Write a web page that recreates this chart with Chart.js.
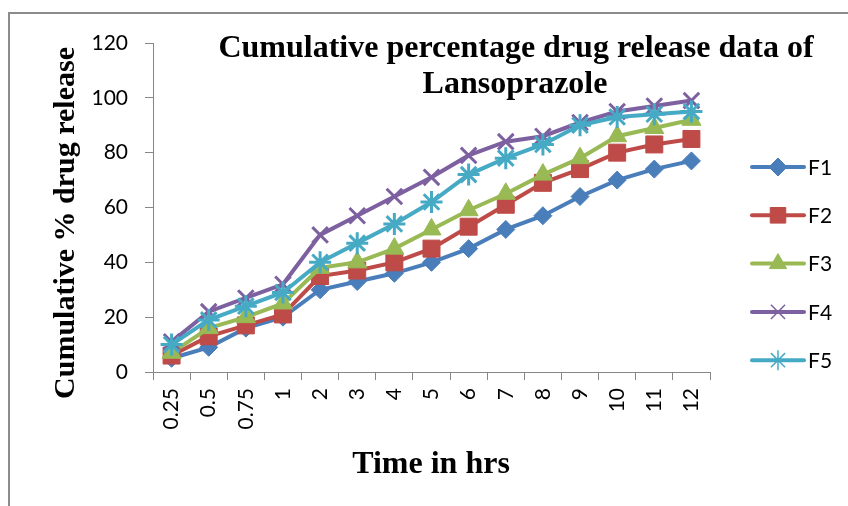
<!DOCTYPE html>
<html>
<head>
<meta charset="utf-8">
<title>Cumulative percentage drug release data of Lansoprazole</title>
<script src="https://cdn.jsdelivr.net/npm/chart.js@4/dist/chart.umd.min.js"></script>
<style>
    html, body { margin: 0; padding: 0; background: #fff; }
    #wrap { width: 848px; height: 506px; }
</style>
</head>
<body>
<div id="wrap"><canvas id="chart" width="848" height="506"></canvas></div>
<script>
// tider (x-axeln) och frisättning i % per formulering
const timeLabels = ['0.25', '0.5', '0.75', '1', '2', '3', '4', '5', '6', '7', '8', '9', '10', '11', '12'];
const yTicks = [0, 20, 40, 60, 80, 100, 120];

const f1 = [5, 9, 16, 20, 30, 33, 36, 40, 45, 52, 57, 64, 70, 74, 77];
const f2 = [6, 13, 17, 21, 35, 37, 40, 45, 53, 61, 69, 74, 80, 83, 85];
const f3 = [7, 16, 20, 25, 38, 40, 45, 52, 59, 65, 72, 78, 86, 89, 92];
const f4 = [11, 22, 27, 32, 50, 57, 64, 71, 79, 84, 86, 91, 95, 97, 99];
const f5 = [10, 19, 24, 29, 40, 47, 54, 62, 72, 78, 83, 90, 93, 94, 95];

const seriesNames = ['F1', 'F2', 'F3', 'F4', 'F5'];
const seriesData = [f1, f2, f3, f4, f5];
const colors = ['#4A7EBB', '#BE4B48', '#98B954', '#7D60A0', '#46AAC5'];
const markers = [
    { style: 'rectRot', radius: 9, border: 1 },
    { style: 'rect', radius: 12, border: 1 },
    { style: 'triangle', radius: 11, border: 1 },
    { style: 'crossRot', radius: 11, border: 3 },
    { style: 'star', radius: 11, border: 3 }
];
// förklaringens markörer är tunnare i originalet
const legendMarkers = [
    { radius: 9, border: 1 },
    { radius: 11, border: 1 },
    { radius: 10, border: 1 },
    { radius: 10, border: 1.5 },
    { radius: 10, border: 1.5 }
];

const axisGray = '#868686';
const tickFont = { family: 'Lato', size: 21 };

const datasets = seriesNames.map((name, i) => ({
    label: name,
    data: seriesData[i],
    borderColor: colors[i],
    backgroundColor: colors[i],
    borderWidth: 4,
    tension: 0,
    pointStyle: markers[i].style,
    pointRadius: markers[i].radius,
    pointBorderWidth: markers[i].border,
    pointBackgroundColor: colors[i],
    pointBorderColor: colors[i],
    order: seriesNames.length - i   // F5 överst, som i Excel
}));

// ram runt hela diagrammet
const framePlugin = {
    id: 'frame',
    beforeDraw (chart) {
        const ctx = chart.ctx;
        ctx.save();
        ctx.strokeStyle = '#8c8c8c';
        ctx.lineWidth = 2;
        ctx.beginPath();
        ctx.moveTo(9, 520);
        ctx.lineTo(9, 13);
        ctx.lineTo(860, 13);
        ctx.stroke();
        ctx.restore();
    }
};

// rubriker (titeln ligger över ritytan)
const titlesPlugin = {
    id: 'titles',
    afterDraw (chart) {
        const ctx = chart.ctx;
        ctx.save();
        ctx.fillStyle = '#000';
        ctx.textAlign = 'center';
        ctx.textBaseline = 'alphabetic';
        ctx.font = 'bold 32px "Liberation Serif"';
        ctx.fillText('Cumulative percentage drug release data of', 516, 57);
        ctx.fillText('Lansoprazole', 515, 93);

        ctx.fillText('Time in hrs', 431, 473);

        ctx.translate(74, 223);
        ctx.rotate(-Math.PI / 2);
        ctx.font = 'bold 30px "Liberation Serif"';
        ctx.fillText('Cumulative % drug release', 0, 0);
        ctx.restore();
    }
};

// förklaring med linje + markör
const legendPlugin = {
    id: 'lineLegend',
    afterDraw (chart) {
        const ctx = chart.ctx;
        ctx.save();
        chart.data.datasets.forEach((ds, i) => {
            const y = 167 + i * 48.3;
            ctx.strokeStyle = ds.borderColor;
            ctx.lineWidth = 4;
            ctx.lineCap = 'round';
            ctx.beginPath();
            ctx.moveTo(752, y);
            ctx.lineTo(804, y);
            ctx.stroke();

            ctx.fillStyle = ds.pointBackgroundColor;
            ctx.strokeStyle = ds.pointBorderColor;
            ctx.lineWidth = legendMarkers[i].border;
            ctx.lineCap = 'butt';
            Chart.helpers.drawPoint(ctx, {
                pointStyle: ds.pointStyle,
                radius: legendMarkers[i].radius,
                rotation: 0,
                borderWidth: legendMarkers[i].border
            }, 778, y);

            ctx.fillStyle = '#000';
            ctx.font = '21px Lato';
            ctx.textAlign = 'left';
            ctx.textBaseline = 'middle';
            ctx.fillText(ds.label, 808, y + 1);
        });
        ctx.restore();
    }
};

new Chart(document.getElementById('chart'), {
    type: 'line',
    data: {
        labels: timeLabels,
        datasets: datasets
    },
    plugins: [framePlugin, titlesPlugin, legendPlugin],
    options: {
        responsive: false,
        animation: false,
        devicePixelRatio: 1,
        layout: {
            padding: { top: 43, right: 138, bottom: 0, left: 0 }
        },
        plugins: {
            legend: { display: false },
            title: { display: false },
            tooltip: { enabled: false }
        },
        scales: {
            x: {
                type: 'category',
                offset: true,
                grid: {
                    display: true,
                    drawOnChartArea: false,
                    offset: true,
                    tickLength: 8,
                    color: axisGray,
                    lineWidth: 1
                },
                border: { display: true, color: axisGray, width: 1 },
                ticks: {
                    autoSkip: false,
                    minRotation: 90,
                    maxRotation: 90,
                    padding: 8,
                    color: '#000',
                    font: tickFont
                },
                afterFit: s => { s.height = 134; }
            },
            y: {
                min: yTicks[0],
                max: yTicks[yTicks.length - 1],
                afterBuildTicks: s => { s.ticks = yTicks.map(v => ({ value: v })); },
                grid: {
                    display: true,
                    drawOnChartArea: false,
                    tickLength: 8,
                    color: axisGray,
                    lineWidth: 1
                },
                border: { display: true, color: axisGray, width: 1 },
                ticks: {
                    padding: 17,
                    color: '#000',
                    font: tickFont
                },
                afterFit: s => { s.width = 153; }
            }
        }
    }
});
</script>
</body>
</html>
